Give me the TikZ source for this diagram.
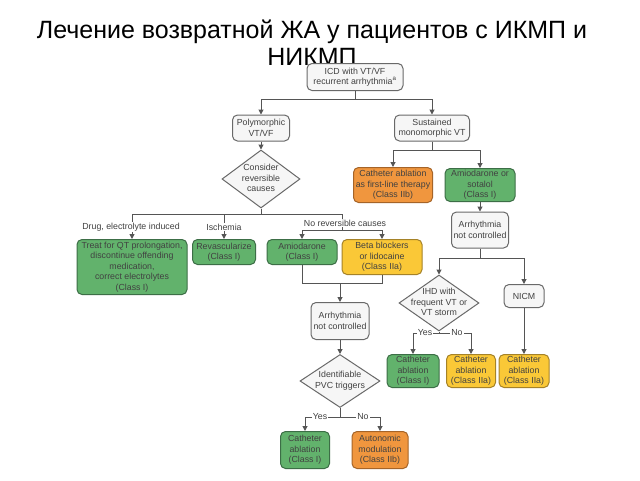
\documentclass[tikz,border=0pt]{standalone}
\usepackage{fontspec}
\setmainfont{Liberation Sans}
\usetikzlibrary{shapes.geometric,arrows.meta}
\definecolor{gfill}{RGB}{98,178,108}
\definecolor{gdraw}{RGB}{60,110,70}
\definecolor{ofill}{RGB}{240,150,62}
\definecolor{odraw}{RGB}{165,100,40}
\definecolor{yfill}{RGB}{250,200,55}
\definecolor{ydraw}{RGB}{165,130,40}
\definecolor{wfill}{RGB}{246,246,246}
\definecolor{wdraw}{RGB}{105,105,105}
\definecolor{txt}{RGB}{65,65,65}
\definecolor{ln}{RGB}{85,85,85}
\newcommand\dtext[1]{\smash{\makebox[0pt]{\raisebox{-0.5ex}{\begin{tabular}{@{}c@{}}#1\end{tabular}}}}}
\tikzset{
 base/.style={rounded corners=5pt, line width=1pt, align=center, inner sep=0pt,
   font=\fontsize{8.8}{10.5}\selectfont, text=txt},
 graybox/.style={base, draw=wdraw, fill=wfill},
 greenbox/.style={base, draw=gdraw, fill=gfill},
 orangebox/.style={base, draw=odraw, fill=ofill},
 yellowbox/.style={base, draw=ydraw, fill=yfill},
 dia/.style={diamond, draw=wdraw, fill=wfill, line width=1pt, inner sep=0pt,
   font=\fontsize{8.8}{10.5}\selectfont, text=txt},
 conn/.style={draw=ln, line width=1pt},
 arr/.style={conn, -{Triangle[length=5pt,width=5pt]}},
 lab/.style={fill=white, inner sep=1pt, font=\fontsize{8.8}{10.5}\selectfont, text=txt}
}
\begin{document}
\begin{tikzpicture}[x=1pt,y=-1pt]
\fill[white] (0,0) rectangle (640,480);
\useasboundingbox (0,0) rectangle (640,480);
\node[font=\fontsize{25}{27}\selectfont, align=center, text=black] (title) at (312,43)
  {Лечение возвратной ЖА у пациентов с ИКМП и\\НИКМП};

\node[graybox, minimum width=96, minimum height=27] (icd) at (355,77) {ICD with VT/VF\\recurrent arrhythmia\textsuperscript{a}};
\node[graybox, minimum width=57, minimum height=26] (poly) at (261,128) {Polymorphic\\VT/VF};
\node[graybox, minimum width=75, minimum height=26] (sust) at (432,128) {Sustained\\monomorphic VT};
\node[dia, minimum width=78, minimum height=58] (cons) at (261,179) {\dtext{Consider\\reversible\\causes}};
\node[orangebox, minimum width=79, minimum height=35] (cath1) at (393,185) {Catheter ablation\\as first-line therapy\\(Class IIb)};
\node[greenbox, minimum width=70, minimum height=33] (amio2) at (480,185) {Amiodarone or\\sotalol\\(Class I)};
\node[graybox, minimum width=57, minimum height=36] (anc2) at (480,230) {Arrhythmia\\not controlled};
\node[dia, minimum width=80, minimum height=56] (ihd) at (439,303) {\dtext{IHD with\\frequent VT or\\VT storm}};
\node[graybox, minimum width=40, minimum height=23] (nicm) at (524,296) {NICM};
\node[greenbox, minimum width=52, minimum height=33] (c2) at (413,371) {Catheter\\ablation\\(Class I)};
\node[yellowbox, minimum width=49, minimum height=33] (c3) at (471,371) {Catheter\\ablation\\(Class IIa)};
\node[yellowbox, minimum width=50, minimum height=33] (c4) at (524,371) {Catheter\\ablation\\(Class IIa)};
\node[greenbox, minimum width=110, minimum height=55] (treat) at (132,267) {Treat for QT prolongation,\\discontinue offending\\medication,\\correct electrolytes\\(Class I)};
\node[greenbox, minimum width=63, minimum height=25] (revasc) at (224,252) {Revascularize\\(Class I)};
\node[greenbox, minimum width=70, minimum height=25] (amio1) at (302,252) {Amiodarone\\(Class I)};
\node[yellowbox, minimum width=80, minimum height=35] (beta) at (382,257) {Beta blockers\\or lidocaine\\(Class IIa)};
\node[graybox, minimum width=58, minimum height=37] (anc1) at (340,321) {Arrhythmia\\not controlled};
\node[dia, minimum width=80, minimum height=53] (pvc) at (340,381) {\dtext{Identifiable\\PVC triggers}};
\node[greenbox, minimum width=49, minimum height=37] (c5) at (305,450) {Catheter\\ablation\\(Class I)};
\node[orangebox, minimum width=56, minimum height=37] (c6) at (380,450) {Autonomic\\modulation\\(Class IIb)};

\draw[arr] (icd.south) -- ++(0,8) -| (poly.north);
\draw[arr] (icd.south) -- ++(0,8) -| (sust.north);
\draw[arr] (poly.south) -- (cons.north);
\draw[arr] (cons.south) -- ++(0,6) -| (treat.north);
\draw[arr] (cons.south) -- ++(0,6) -| (revasc.north);
\coordinate (j1) at (342,230);
\draw[conn] (cons.south) -- ++(0,6) -| (j1);
\draw[arr] (j1) -| (amio1.north);
\draw[arr] (j1) -| (beta.north);
\coordinate (j2) at (340,283);
\draw[conn] (amio1.south) |- (j2);
\draw[conn] (beta.south) |- (j2);
\draw[arr] (j2) -- (anc1.north);
\draw[arr] (anc1.south) -- (pvc.north);
\coordinate (j3) at (340,417);
\draw[conn] (pvc.south) -- (j3);
\draw[arr] (j3) -| (c5.north);
\draw[arr] (j3) -| (c6.north);
\draw[arr] (sust.south) -- ++(0,9) -| (cath1.north);
\draw[arr] (sust.south) -- ++(0,9) -| (amio2.north);
\draw[arr] (amio2.south) -- (anc2.north);
\draw[arr] (anc2.south) -- ++(0,10) -| (ihd.north);
\draw[arr] (anc2.south) -- ++(0,10) -| (nicm.north);
\coordinate (j4) at (439,333);
\draw[conn] (ihd.south) -- (j4);
\draw[arr] (j4) -| (c2.north);
\draw[arr] (j4) -| (c3.north);
\draw[arr] (nicm.south) -- (c4.north);

\node[lab] (drug) at (131,227) {Drug, electrolyte induced};
\node[lab] (isch) at (224,227) {Ischemia};
\node[lab] (nrc) at (345,223) {No reversible causes};
\node[lab] (yes1) at (320,417) {Yes};
\node[lab] (no1) at (363,417) {No};
\node[lab] (yes2) at (425,333) {Yes};
\node[lab] (no2) at (457,333) {No};
\end{tikzpicture}
\end{document}
